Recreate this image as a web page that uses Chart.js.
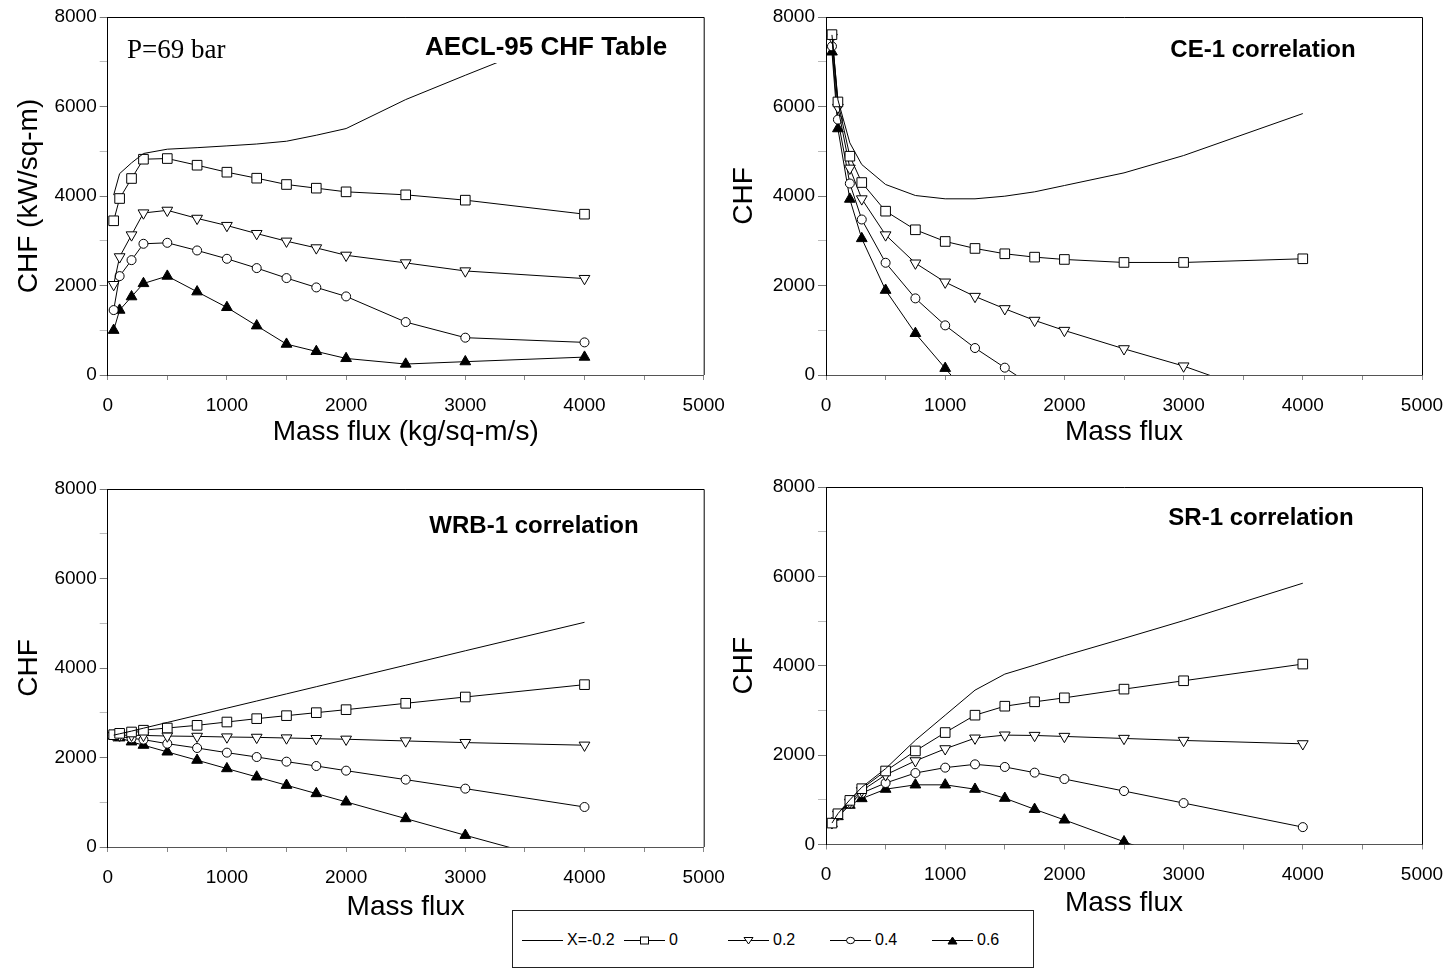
<!DOCTYPE html>
<html>
<head>
<meta charset="utf-8">
<title>CHF vs mass flux, P=69 bar</title>
<script src="https://cdn.jsdelivr.net/npm/chart.js@4.4.1/dist/chart.umd.min.js"></script>
<style>
    body { margin: 0; background: #fff; width: 1451px; height: 970px; position: relative; overflow: hidden;
           font-family: 'Liberation Sans', Arial, sans-serif; }
    canvas { position: absolute; }
    #legend { position: absolute; left: 512px; top: 910px; width: 522px; height: 58px;
              border: 1px solid #222; box-sizing: border-box; background: #fff; }
    #legend svg { position: absolute; top: 22px; }
    #legend span { position: absolute; top: 19px; font-size: 16px; line-height: 20px; color: #000; }
</style>
</head>
<body>
<canvas id="aecl" width="725" height="455" style="left:0;top:0"></canvas>
<canvas id="ce1" width="726" height="455" style="left:725px;top:0"></canvas>
<canvas id="wrb1" width="725" height="470" style="left:0;top:460px"></canvas>
<canvas id="sr1" width="726" height="470" style="left:725px;top:460px"></canvas>
<div id="legend"></div>

<script>
// Mass flux (kg/m2/s) where every curve is evaluated
const massFlux = [50, 100, 200, 300, 500, 750, 1000, 1250, 1500, 1750, 2000, 2500, 3000, 4000];
const qualityLabels = ['X=-0.2', '0', '0.2', '0.4', '0.6'];
const xTicks = [0, 1000, 2000, 3000, 4000, 5000];
const yTicks = [0, 2000, 4000, 6000, 8000];

// AECL-95 CHF table
const aeclXm02 = [4020, 4500, 4740, 4950, 5046, 5080, 5120, 5162, 5224, 5358, 5507, 6155, 6698, 7760];
const aeclX0   = [3446, 3944, 4391, 4822, 4837, 4688, 4532, 4398, 4257, 4175, 4093, 4026, 3907, 3594];
const aeclX02  = [2020, 2640, 3130, 3620, 3680, 3500, 3340, 3160, 2990, 2840, 2675, 2505, 2325, 2155];
const aeclX04  = [1451, 2210, 2567, 2932, 2954, 2783, 2597, 2389, 2166, 1957, 1756, 1183, 834, 729];
const aeclX06  = [1000, 1450, 1750, 2045, 2210, 1860, 1510, 1100, 690, 527, 370, 245, 298, 400];

// CE-1 correlation (curves run below zero and are cut at the axis)
const ce1Xm02 = [7600, 6150, 5187, 4703, 4257, 4011, 3937, 3937, 3996, 4093, 4234, 4517, 4904, 5842];
const ce1X0   = [7606, 6102, 4889, 4301, 3661, 3245, 2984, 2828, 2709, 2634, 2582, 2515, 2515, 2597];
const ce1X02  = [7545, 5980, 4620, 3935, 3130, 2500, 2075, 1755, 1480, 1220, 995, 585, 200, -744];
const ce1X04  = [7345, 5708, 4279, 3475, 2508, 1712, 1109, 603, 164, -275, null, null, null, null];
const ce1X06  = [7220, 5505, 3930, 3050, 1895, 930, 150, -630, null, null, null, null, null, null];

// WRB-1 correlation
const wrbXm02 = [2500, 2530, 2590, 2655, 2783, 2943, 3103, 3262, 3422, 3582, 3742, 4062, 4385, 5021];
const wrbX0   = [2510, 2540, 2570, 2610, 2659, 2719, 2793, 2868, 2935, 3002, 3069, 3211, 3352, 3628];
const wrbX02  = [2500, 2500, 2497, 2493, 2480, 2472, 2458, 2450, 2436, 2422, 2408, 2370, 2333, 2275];
const wrbX04  = [2495, 2473, 2428, 2399, 2309, 2212, 2108, 2011, 1907, 1810, 1706, 1505, 1304, 894];
const wrbX06  = [2480, 2440, 2350, 2275, 2125, 1940, 1752, 1566, 1380, 1194, 1008, 635, 262, -468];

// SR-1 correlation
const srXm02 = [480, 690, 1000, 1280, 1697, 2333, 2894, 3454, 3813, 4015, 4224, 4613, 5010, 5847];
const srX0   = [479, 688, 987, 1249, 1645, 2094, 2505, 2894, 3095, 3193, 3282, 3477, 3664, 4038];
const srX02  = [485, 680, 945, 1205, 1558, 1872, 2141, 2380, 2448, 2440, 2418, 2373, 2328, 2253];
const srX04  = [479, 650, 912, 1151, 1376, 1600, 1720, 1794, 1735, 1608, 1465, 1196, 927, 389];
const srX06  = [470, 625, 880, 1028, 1238, 1335, 1335, 1238, 1036, 788, 550, 62, -411, null];

// marker style per quality, same order as qualityLabels
const seriesStyles = [
    { pointRadius: 0 },
    { pointStyle: 'rect', pointRadius: 6.8, pointBackgroundColor: '#fff' },
    { pointStyle: 'triangle', pointRotation: 180, pointRadius: 6.2, pointBackgroundColor: '#fff' },
    { pointStyle: 'circle', pointRadius: 4.5, pointBackgroundColor: '#fff' },
    { pointStyle: 'triangle', pointRadius: 6.2, pointBackgroundColor: '#000' }
];

const tickFont = { family: "'Liberation Sans', Arial, sans-serif", size: 19 };
const axisTitleFont = { family: "'Liberation Sans', Arial, sans-serif", size: 28 };

// closes the plot frame (top and right edges)
const frameBox = {
    id: 'frameBox',
    beforeDatasetsDraw(chart) {
        const { ctx, chartArea: a } = chart;
        ctx.save();
        ctx.strokeStyle = '#000';
        ctx.lineWidth = 1;
        ctx.beginPath();
        ctx.moveTo(a.left, a.top + 0.5);
        ctx.lineTo(a.right + 0.5, a.top + 0.5);
        ctx.lineTo(a.right + 0.5, a.bottom);
        ctx.stroke();
        ctx.restore();
    }
};

// titles written inside the plot, with an optional white backing box
const panelText = {
    id: 'panelText',
    afterDatasetsDraw(chart, args, opts) {
        const ctx = chart.ctx;
        (opts.items || []).forEach(item => {
            ctx.save();
            if (item.box) {
                ctx.fillStyle = '#fff';
                ctx.fillRect(item.box[0], item.box[1], item.box[2], item.box[3]);
            }
            ctx.font = item.font;
            ctx.fillStyle = '#000';
            ctx.textAlign = item.align || 'center';
            ctx.textBaseline = 'alphabetic';
            ctx.fillText(item.text, item.x, item.y);
            ctx.restore();
        });
    }
};

function buildPanel(cfg) {
    const datasets = cfg.series.map((values, i) => Object.assign({
        label: qualityLabels[i],
        data: values.map((v, j) => ({ x: massFlux[j], y: v })).filter(p => p.y !== null),
        showLine: true,
        borderColor: '#000',
        borderWidth: 1,
        pointBorderColor: '#000',
        pointBorderWidth: 1,
        tension: 0,
        clip: { left: 10, top: 10, right: 10, bottom: 0 }
    }, seriesStyles[i]));

    new Chart(document.getElementById(cfg.id), {
        type: 'scatter',
        data: { datasets: datasets },
        options: {
            responsive: false,
            animation: false,
            events: [],
            layout: { padding: { left: 0, top: cfg.areaTop, right: cfg.padRight, bottom: 0 } },
            plugins: {
                legend: { display: false },
                tooltip: { enabled: false },
                panelText: { items: cfg.texts }
            },
            scales: {
                x: {
                    type: 'linear', min: 0, max: 5000,
                    ticks: {
                        stepSize: 500, autoSkip: false, maxRotation: 0, padding: 14,
                        color: '#000', font: tickFont,
                        callback: v => xTicks.includes(v) ? String(v) : ''
                    },
                    grid: { drawOnChartArea: false, tickLength: 5, tickColor: '#888' },
                    border: { color: '#555', width: 1 },
                    title: { display: true, text: cfg.xTitle, color: '#000', font: axisTitleFont,
                             padding: { top: 0, bottom: cfg.xTitlePad } },
                    afterFit: s => { s.height = cfg.xHeight; s.paddingLeft = 0; s.paddingRight = 0; }
                },
                y: {
                    type: 'linear', min: 0, max: 8000,
                    ticks: {
                        stepSize: 1000, padding: 3, color: '#000', font: tickFont,
                        callback: v => yTicks.includes(v) ? String(v) : ''
                    },
                    grid: {
                        drawOnChartArea: false, tickLength: 8,
                        tickColor: c => (c.tick && yTicks.includes(c.tick.value)) ? '#777' : '#bbb'
                    },
                    border: { color: '#000', width: 1 },
                    title: { display: true, text: cfg.yTitle, color: '#000', font: axisTitleFont,
                             padding: { top: cfg.yTitlePad, bottom: 0 } },
                    afterFit: s => { s.width = cfg.yWidth; s.paddingTop = 0; s.paddingBottom = 0; }
                }
            }
        },
        plugins: [frameBox, panelText]
    });
}

buildPanel({
    id: 'aecl', series: [aeclXm02, aeclX0, aeclX02, aeclX04, aeclX06],
    areaTop: 17, yWidth: 107.7, padRight: 21.3, xHeight: 80,
    yTitle: 'CHF (kW/sq-m)', yTitlePad: 12, xTitle: 'Mass flux (kg/sq-m/s)', xTitlePad: 6,
    texts: [
        { text: 'P=69 bar', x: 127, y: 58, align: 'left', font: "27px 'Liberation Serif', 'Times New Roman', serif" },
        { text: 'AECL-95 CHF Table', x: 546, y: 55, font: "bold 26px 'Liberation Sans', Arial, sans-serif",
          box: [415, 24, 282, 39] }
    ]
});

buildPanel({
    id: 'ce1', series: [ce1Xm02, ce1X0, ce1X02, ce1X04, ce1X06],
    areaTop: 17, yWidth: 101, padRight: 29, xHeight: 80,
    yTitle: 'CHF', yTitlePad: 2, xTitle: 'Mass flux', xTitlePad: 6,
    texts: [
        { text: 'CE-1 correlation', x: 538, y: 57, font: "bold 24px 'Liberation Sans', Arial, sans-serif" }
    ]
});

buildPanel({
    id: 'wrb1', series: [wrbXm02, wrbX0, wrbX02, wrbX04, wrbX06],
    areaTop: 29, yWidth: 107.7, padRight: 21.3, xHeight: 83,
    yTitle: 'CHF', yTitlePad: 12, xTitle: 'Mass flux', xTitlePad: 6,
    texts: [
        { text: 'WRB-1 correlation', x: 534, y: 73, font: "bold 24px 'Liberation Sans', Arial, sans-serif" }
    ]
});

buildPanel({
    id: 'sr1', series: [srXm02, srX0, srX02, srX04, srX06],
    areaTop: 27, yWidth: 101, padRight: 29, xHeight: 85.5,
    yTitle: 'CHF', yTitlePad: 2, xTitle: 'Mass flux', xTitlePad: 10,
    texts: [
        { text: 'SR-1 correlation', x: 536, y: 65, font: "bold 24px 'Liberation Sans', Arial, sans-serif" }
    ]
});

// shared legend along the bottom
const legendSampleX = [9, 111, 215, 317, 419];
const legendMarkers = [
    '',
    '<rect x="16.5" y="4" width="8" height="7" fill="#fff" stroke="#000"/>',
    '<polygon points="16,4.5 25,4.5 20.5,11" fill="#fff" stroke="#000"/>',
    '<ellipse cx="20.5" cy="7.5" rx="4" ry="3.2" fill="#fff" stroke="#000"/>',
    '<polygon points="16,11 25,11 20.5,4" fill="#000" stroke="#000"/>'
];
const legend = document.getElementById('legend');
qualityLabels.forEach((label, i) => {
    legend.insertAdjacentHTML('beforeend',
        '<svg width="41" height="15" style="left:' + legendSampleX[i] + 'px">' +
        '<line x1="0" y1="7.5" x2="41" y2="7.5" stroke="#000" stroke-width="1"/>' + legendMarkers[i] + '</svg>' +
        '<span style="left:' + (legendSampleX[i] + 45) + 'px">' + label + '</span>');
});
</script>
</body>
</html>
